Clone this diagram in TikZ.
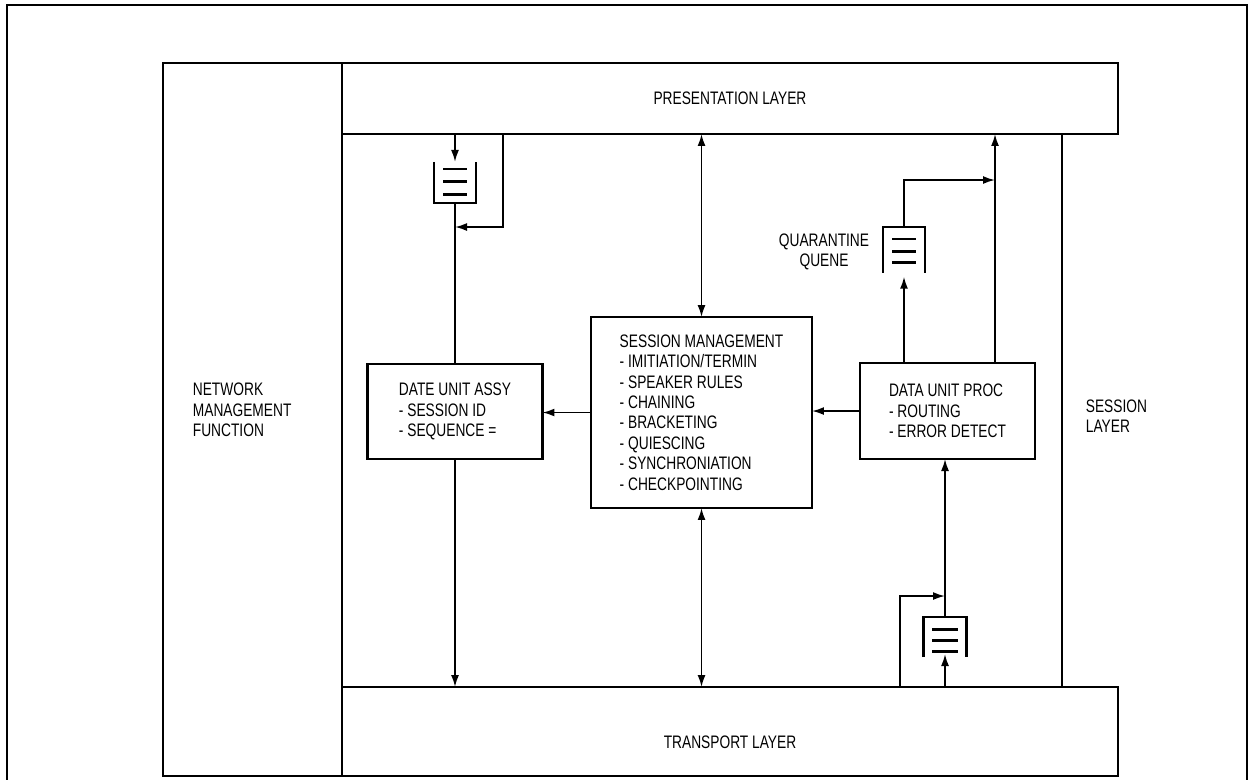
\documentclass[tikz,border=0pt]{standalone}
\usepackage{fontspec}
\setmainfont{Liberation Sans}[FakeStretch=0.76]
\usetikzlibrary{arrows.meta,positioning}

\begin{document}
\begin{tikzpicture}[
    x=0.02cm, y=-0.02cm,
    font=\fontsize{10.3}{11.6}\selectfont,
    line width=1pt,
    box/.style={draw, line width=1.2pt, outer sep=0pt, inner sep=0pt, align=left},
    layer/.style={box, align=center},
    queue/.style={outer sep=0pt, inner sep=0pt},
    qline/.style={line width=1.2pt},
    bar/.style={line width=1.6pt},
    lbl/.style={inner sep=0pt, align=left},
    arr/.style={-{Latex[length=2.4mm,width=1.6mm]}},
    biarr/.style={{Latex[length=2.4mm,width=1.6mm]}-{Latex[length=2.4mm,width=1.6mm]}},
  ]
  \useasboundingbox (0,0) rectangle (1250,779);

  % outer frame
  \draw[line width=1.3pt] (7,5) rectangle (1247,800);

  % ===== layers =====
  \node[box, anchor=north west, minimum width=3.58cm, minimum height=14.26cm] (nmf) at (163,63) {};
  \node[layer, anchor=north west, minimum width=15.52cm, minimum height=1.42cm] (pres) at (342,63) {PRESENTATION LAYER};
  \node[layer, anchor=north west, minimum width=15.52cm, minimum height=1.78cm] (trans) at (342,687) {};
  \node[lbl] (transtxt) at (730,742) {TRANSPORT LAYER};
  \coordinate (sl) at (1062,400);
  \draw[qline] (pres.south -| sl) -- (trans.north -| sl);

  \node[lbl, anchor=west] (nmftxt) at (192,410) {NETWORK\\MANAGEMENT\\FUNCTION};
  \node[lbl, anchor=west] (sltxt)  at (1085,416) {SESSION\\LAYER};

  % ===== session layer contents =====
  \node[box, minimum width=3.5cm, minimum height=1.9cm] (dua) at (455,411.5)
      {DATE UNIT ASSY\\- SESSION ID\\- SEQUENCE =};
  \node[box, minimum width=4.42cm, minimum height=3.82cm] (sm) at (701.5,412.5)
      {SESSION MANAGEMENT\\- IMITIATION/TERMIN\\- SPEAKER RULES\\- CHAINING\\- BRACKETING\\- QUIESCING\\- SYNCHRONIATION\\- CHECKPOINTING};
  \node[box, minimum width=3.5cm, minimum height=1.92cm] (dup) at (947.5,411)
      {DATA UNIT PROC\\- ROUTING\\- ERROR DETECT};

  % queues
  \node[queue, minimum width=0.84cm, minimum height=0.82cm] (q1) at (455,182.4) {};
  \draw[qline] (q1.north west) |- (q1.south east) -- (q1.north east);
  \foreach \dy in {-13.4,-0.7,11.9}
    \draw[bar] ([shift={(-12,\dy)}]q1.center) -- ([shift={(12,\dy)}]q1.center);

  \node[queue, minimum width=0.84cm, minimum height=0.92cm] (q2) at (904,249.7) {};
  \draw[qline] (q2.south west) |- (q2.north east) -- (q2.south east);
  \foreach \dy in {-10.7,1.6,12.6}
    \draw[bar] ([shift={(-12,\dy)}]q2.center) -- ([shift={(12,\dy)}]q2.center);
  \node[lbl, align=center] (qqtxt) at (824,252) {QUARANTINE\\QUENE};

  \node[queue, minimum width=0.86cm, minimum height=0.8cm] (q3) at (945,637) {};
  \draw[qline] (q3.south west) |- (q3.north east) -- (q3.south east);
  \foreach \dy in {-7.7,3.7,14.7}
    \draw[bar] ([shift={(-13,\dy)}]q3.center) -- ([shift={(13,\dy)}]q3.center);

  % ===== connectors =====
  \coordinate (tq1) at (503,134);
  \coordinate (jq1) at (455,227);
  \draw[arr] (q1.north |- pres.south) -- (q1.north);
  \draw (q1.south) -- (q1.south |- dua.north);
  \draw[arr] (tq1) |- (jq1);
  \draw[arr] (dua.south) -- (dua.south |- trans.north);

  \draw[biarr] (sm.north) -- (sm.north |- pres.south);
  \draw[biarr] (sm.south) -- (sm.south |- trans.north);
  \draw[arr] (sm.west) -- (sm.west -| dua.east);
  \draw[arr] (dup.west) -- (dup.west -| sm.east);

  \coordinate (jq2) at (995,180);
  \draw[arr] (q2.south |- dup.north) -- ([yshift=-0.08cm]q2.south);
  \draw[arr] (q2.north) |- (jq2);
  \draw[arr] (dup.north -| jq2) -- (jq2 |- pres.south);

  \coordinate (tq3) at (900,687);
  \coordinate (jq3) at (945,596);
  \draw[arr] (q3.south |- trans.north) -- ([yshift=0.06cm]q3.south);
  \draw[arr] (q3.north) -- (q3.north |- dup.south);
  \draw[arr] (tq3) |- (jq3);

\end{tikzpicture}
\end{document}
